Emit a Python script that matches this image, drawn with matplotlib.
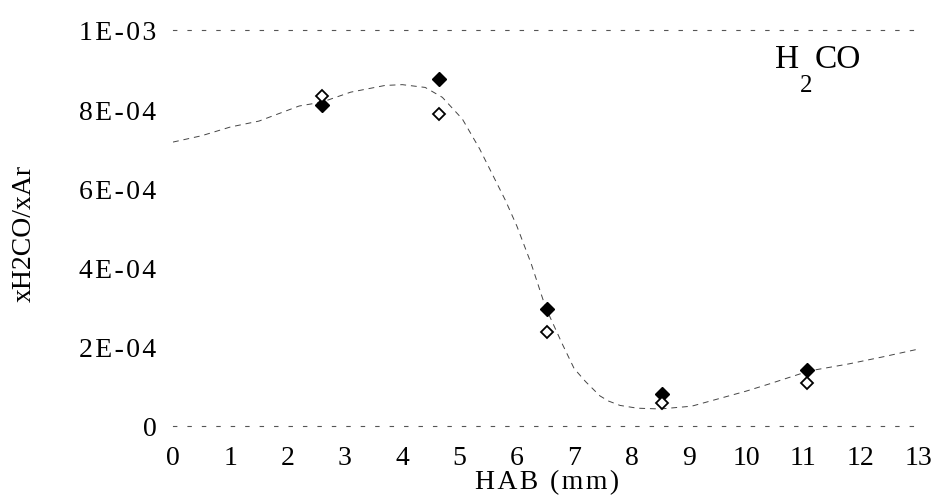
import numpy as np
import matplotlib
matplotlib.use("Agg")
import matplotlib.pyplot as plt

plt.rcParams['font.family'] = ['Liberation Serif', 'DejaVu Serif']

# measured mole fractions (x H2CO / x Ar) vs height above burner
hab = [2.60, 4.65, 6.53, 8.54, 11.07]
exp_filled = [8.11e-4, 8.76e-4, 2.95e-4, 0.81e-4, 1.41e-4]
exp_open = [8.33e-4, 7.88e-4, 2.37e-4, 0.57e-4, 1.09e-4]

# model profile
model_x = [0, 0.5, 1.0, 1.5, 2.2, 2.6, 3.1, 3.7, 4.0, 4.4, 4.7, 5.05, 5.35,
           5.8, 6.0, 6.25, 6.5, 6.8, 7.0, 7.2, 7.45, 7.6, 7.8, 8.1, 8.5,
           9.05, 10.0, 10.4, 11.1, 11.8, 12.4, 13.0]
model_y = [7.17e-4, 7.33e-4, 7.55e-4, 7.70e-4, 8.08e-4, 8.18e-4, 8.43e-4,
           8.60e-4, 8.62e-4, 8.55e-4, 8.30e-4, 7.75e-4, 7.00e-4, 5.70e-4,
           5.05e-4, 4.10e-4, 3.00e-4, 2.05e-4, 1.45e-4, 1.12e-4, 0.76e-4,
           0.63e-4, 0.52e-4, 0.45e-4, 0.43e-4, 0.50e-4, 0.88e-4, 1.06e-4,
           1.39e-4, 1.57e-4, 1.75e-4, 1.94e-4]

xticks = list(range(0, 14))
yticks = [0, 2e-4, 4e-4, 6e-4, 8e-4, 1e-3]
ytick_labels = ['0', '2E-04', '4E-04', '6E-04', '8E-04', '1E-03']

HAIR = '\u200a'

fig = plt.figure(figsize=(9.39, 5.02), dpi=100)
ax = fig.add_axes([173 / 939, 1 - 427 / 502, 745 / 939, 396 / 502])

ax.plot(model_x, model_y, color='#444444', lw=0.7, linestyle=(0, (6, 5)))
ax.plot(hab, exp_filled, 'D', color='black', ms=7, mew=1)
ax.plot(hab, exp_open, 'D', mfc='white', mec='black', ms=6.5, mew=1.3)

ax.set_xlim(0, 13)
ax.set_ylim(0, 1e-3)
ax.set_xticks(xticks)
ax.set_xticklabels([str(v) for v in xticks], fontsize=20)
ax.set_yticks(yticks)
ax.set_yticklabels([HAIR.join(s) for s in ytick_labels], fontsize=20)
ax.tick_params(axis='x', length=0, pad=14)
ax.tick_params(axis='y', length=0, pad=12)

for side in ['left', 'right']:
    ax.spines[side].set_visible(False)
for side in ['top', 'bottom']:
    ax.spines[side].set_color('#555555')
    ax.spines[side].set_linewidth(0.8)
    ax.spines[side].set_linestyle((0, (3, 10)))

ax.set_xlabel(HAIR.join('HAB (mm)'), fontsize=20)
ax.xaxis.set_label_coords(0.502, -0.108)
ax.set_ylabel('xH2CO/xAr', fontsize=20)
ax.yaxis.set_label_coords(-0.183, 0.49)

# species label with a low subscript
ax.text(0.808, 0.9066, 'H', transform=ax.transAxes, fontsize=24, va='baseline')
ax.text(0.8416, 0.846, '2', transform=ax.transAxes, fontsize=18, va='baseline')
ax.text(0.8617, 0.9066, 'CO', transform=ax.transAxes, fontsize=24, va='baseline')

fig.savefig('out.png', dpi=100)
